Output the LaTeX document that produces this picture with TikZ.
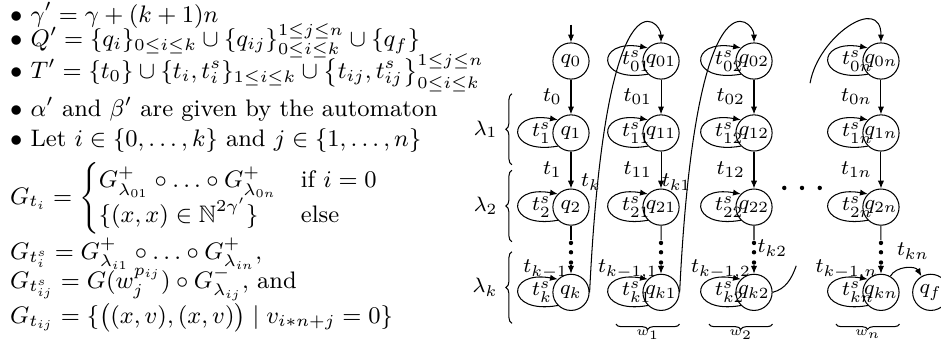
\RequirePackage{fix-cm}
\documentclass[tikz,border=0pt]{standalone}
\usepackage{amsmath,amssymb}
\usepackage{xcolor}
\usepackage{tikz}
\usetikzlibrary{arrows.meta, positioning, calc, decorations.pathreplacing}

\begin{document}
\begin{tikzpicture}[
    font=\footnotesize,
    state/.style={draw, circle, minimum size=0.49cm, inner sep=0pt},
    arr/.style={draw, -{Latex[length=3pt, width=2.4pt]}},
    dot/.style={circle, fill, inner sep=0pt, minimum size=1.7pt},
    lbrace/.style={draw, decorate, decoration={brace, amplitude=2.3pt}},
    ubrace/.style={draw, decorate, decoration={brace, amplitude=2pt}},
    looplab/.style={pos=0.5, anchor=west, inner sep=0pt, xshift=5pt},
    backlab/.style={anchor=east, inner sep=0.5pt, xshift=2pt},
    deftext/.style={anchor=base west, inner sep=0pt, font=\fontsize{9.2}{11}\selectfont}
]
    \useasboundingbox (-7.731,-3.791) rectangle (5.010,0.826);

    % Definition of the system
    \node[deftext] (gam) at (-7.60,0.528) {$\bullet$ $\gamma' = \gamma + (k+1)n$};
    \node[deftext] (qset) at (-7.60,0.190) {$\bullet$ $Q' = \{q_i\}_{0\le i\le k} \cup \{q_{ij}\}_{0\le i\le k}^{1\le j\le n} \cup \{q_f\}$};
    \node[deftext] (tset) at (-7.60,-0.237) {$\bullet$ $T' = \{t_0\} \cup \{t_i, t_i^s\}_{1\le i\le k} \cup \big\{t_{ij}, t_{ij}^s\big\}_{0\le i\le k}^{1\le j\le n}$};
    \node[deftext] (ab) at (-7.60,-0.751) {$\bullet$ $\alpha'$ and $\beta'$ are given by the automaton};
    \node[deftext] (let) at (-7.60,-1.158) {$\bullet$ Let $i\in\{0,\ldots,k\}$ and $j\in\{1,\ldots,n\}$};
    \node[deftext] (gti) at (-7.60,-1.936) {$G_{t_i} = \begin{cases} G^+_{\lambda_{01}}\circ\ldots\circ G^+_{\lambda_{0n}} & \text{if } i=0\\ \{(x,x)\in\mathbb{N}^{2\gamma'}\} & \text{else}\end{cases}$};
    \node[deftext] (gtis) at (-7.60,-2.688) {$G_{t_i^s} = G^+_{\lambda_{i1}}\circ\ldots\circ G^+_{\lambda_{in}},$};
    \node[deftext] (gtijs) at (-7.60,-3.080) {$G_{t_{ij}^s} = G(w_j^{p_{ij}})\circ G^-_{\lambda_{ij}}$, and};
    \node[deftext] (gtij) at (-7.60,-3.554) {$G_{t_{ij}} = \{\big((x,v),(x,v)\big) \mid v_{i*n+j}=0\}$};

    % States
    \node[state] (q0) {$q_0$};
    \node[state, below=0.47cm of q0] (q1) {$q_1$};
    \node[state, below=0.5cm of q1] (q2) {$q_2$};
    \node[state, below=0.65cm of q2] (qk) {$q_k$};
    \node[state, right=0.715cm of q0] (q01) {$q_{01}$};
    \node[state, below=0.47cm of q01] (q11) {$q_{11}$};
    \node[state, below=0.5cm of q11] (q21) {$q_{21}$};
    \node[state, below=0.65cm of q21] (qk1) {$q_{k1}$};
    \node[state, right=0.755cm of q01] (q02) {$q_{02}$};
    \node[state, below=0.47cm of q02] (q12) {$q_{12}$};
    \node[state, below=0.5cm of q12] (q22) {$q_{22}$};
    \node[state, below=0.65cm of q22] (qk2) {$q_{k2}$};
    \node[state, right=1.215cm of q02] (q0n) {$q_{0n}$};
    \node[state, below=0.47cm of q0n] (q1n) {$q_{1n}$};
    \node[state, below=0.5cm of q1n] (q2n) {$q_{2n}$};
    \node[state, below=0.65cm of q2n] (qkn) {$q_{kn}$};
    \node[state, right=0.17cm of qkn] (qf) {$q_f$};

    % Initial state
    \coordinate[above=0.24cm of q0] (init);
    \draw[arr] (init) -- (q0);

    % Column of the q_i
    \draw[arr] (q0) -- node[left] {$t_0$} (q1);
    \draw[arr] (q1) -- node[left] {$t_1$} (q2);
    \node[dot] (a0) at ($(q2)!0.42!(qk)$) {};
    \node[dot] (b0) at ($(q2)!0.53!(qk)$) {};
    \node[dot] (c0) at ($(q2)!0.65!(qk)$) {};
    \draw (q2) -- (a0);
    \draw[arr] (c0) -- node[left, inner sep=1pt] {$t_{k-1}$} (qk);

    % Columns of the q_ij
    \foreach \c in {1,2,n} {
        \draw[arr] (q0\c) -- node[left] {$t_{0\c}$} (q1\c);
        \draw[arr] (q1\c) -- node[left] {$t_{1\c}$} (q2\c);
        \node[dot] (a\c) at ($(q2\c)!0.42!(qk\c)$) {};
        \node[dot] (b\c) at ($(q2\c)!0.53!(qk\c)$) {};
        \node[dot] (c\c) at ($(q2\c)!0.65!(qk\c)$) {};
        \draw (q2\c) -- (a\c);
        \draw[arr] (c\c) -- node[left, inner sep=1pt] {$t_{k-1,\c}$} (qk\c);
    }

    % Self loops
    \foreach \n/\l in {q1/1, q2/2, qk/k, q01/{01}, q11/{11}, q21/{21}, qk1/{k1},
                       q02/{02}, q12/{12}, q22/{22}, qk2/{k2}, q0n/{0n}, q1n/{1n}, q2n/{2n}, qkn/{kn}}
        \draw[arr] (\n.225) .. controls +(190:0.72) and +(170:0.72) .. (\n.135) node[looplab] {$t^s_{\l}$};

    % Going back to the top of the next column
    \draw[arr] (qk.east) .. controls +(0.22,4.47) and +(0,0.31) .. (q01.north) node[pos=0.13, backlab] {$t_k$};
    \draw[arr] (qk1.east) .. controls +(0.22,4.47) and +(0,0.31) .. (q02.north) node[pos=0.13, backlab] {$t_{k1}$};
    \coordinate (e2) at ($(qk2.east)+(0.32,0.36)$);
    \draw (qk2.east) to[out=15, in=-110] (e2) node[above left] {$t_{k2}$};
    \coordinate (sn) at ($(q0n)+(-0.96,-0.30)$);
    \draw[arr] (sn) .. controls +(0.11,0.64) and +(0,0.65) .. (q0n.north);
    \draw[arr] (qkn) to[out=60, in=120] node[above, pos=0.55, xshift=2pt] {$t_{kn}$} (qf);

    % Omitted columns
    \foreach \x in {0.41,0.65,0.89}
        \node[dot] at ($(q22)+(\x,0.26)$) {};

    % Phases lambda
    \draw[lbrace] ($(q1)+(-0.80,-0.43)$) -- ($(q1)+(-0.80,0.53)$) node[midway, left=2pt] {$\lambda_1$};
    \draw[lbrace] ($(q2)+(-0.80,-0.47)$) -- ($(q2)+(-0.80,0.50)$) node[midway, left=2pt] {$\lambda_2$};
    \draw[lbrace] ($(qk)+(-0.80,-0.42)$) -- ($(qk)+(-0.80,0.55)$) node[midway, left=2pt] {$\lambda_k$};

    % Words w_j
    \draw[ubrace] ($(qk1)+(0.25,-0.43)$) -- ($(qk1)+(-0.61,-0.43)$) node[midway, below=2pt, inner sep=0pt, font=\tiny] {$w_1$};
    \draw[ubrace] ($(qk2)+(0.25,-0.43)$) -- ($(qk2)+(-0.61,-0.43)$) node[midway, below=2pt, inner sep=0pt, font=\tiny] {$w_2$};
    \draw[ubrace] ($(qkn)+(0.25,-0.43)$) -- ($(qkn)+(-0.61,-0.43)$) node[midway, below=2pt, inner sep=0pt, font=\tiny] {$w_n$};

\end{tikzpicture}
\end{document}
